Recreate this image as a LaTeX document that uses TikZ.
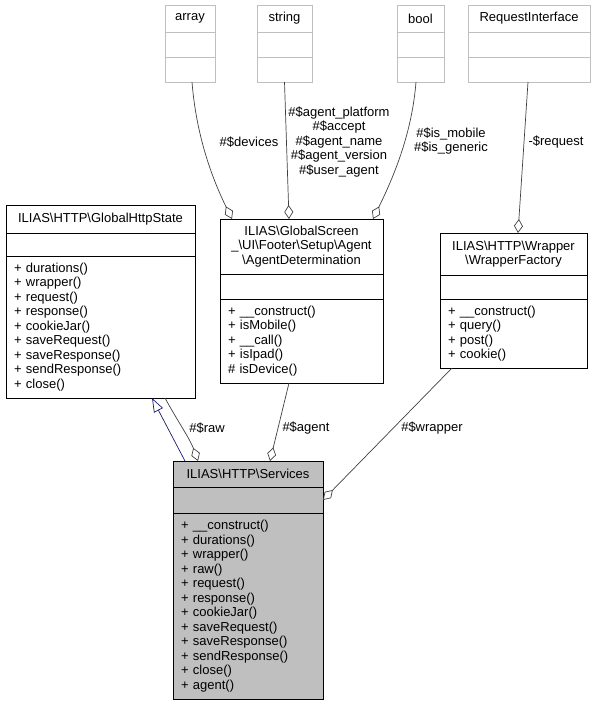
\documentclass[tikz,border=0pt]{standalone}
\usepackage{fontspec}
\setmainfont{Liberation Sans}
\usetikzlibrary{calc,positioning,arrows.meta}
\definecolor{edgegray}{HTML}{404040}
\definecolor{boxgray}{HTML}{BFBFBF}
\definecolor{inherit}{HTML}{191970}
\newcommand{\bsl}{\textbackslash}

\begin{document}
\begin{tikzpicture}[%
    x=1pt, y=-1pt,
    font=\fontsize{13}{14.5}\selectfont,
    part/.style={draw=black, line width=0.9pt, inner sep=0pt, outer sep=0pt, align=center},
    ext/.style={part, draw=boxgray},
    ops/.style={part, align=left, inner xsep=8pt},
    member/.style={draw=edgegray, line width=0.7pt,
      -{Diamond[open, length=14pt, width=9pt, line width=0.7pt]}},
    lbl/.style={align=center, inner sep=1pt}
  ]
  \useasboundingbox (0,0) rectangle (597,705);

  % external types
  \node[ext, minimum width=50pt, minimum height=27pt, anchor=north] (array) at (190,5) {array};
  \node[ext, minimum width=50pt, minimum height=25pt, below=0pt of array] (array-attr) {};
  \node[ext, minimum width=50pt, minimum height=25pt, below=0pt of array-attr] (array-ops) {};

  \node[ext, minimum width=55pt, minimum height=27pt, anchor=north] (string) at (284.5,5) {string};
  \node[ext, minimum width=55pt, minimum height=25pt, below=0pt of string] (string-attr) {};
  \node[ext, minimum width=55pt, minimum height=25pt, below=0pt of string-attr] (string-ops) {};

  \node[ext, minimum width=47pt, minimum height=27pt, anchor=north] (bool) at (420.5,5) {bool};
  \node[ext, minimum width=47pt, minimum height=25pt, below=0pt of bool] (bool-attr) {};
  \node[ext, minimum width=47pt, minimum height=25pt, below=0pt of bool-attr] (bool-ops) {};

  \node[ext, minimum width=122pt, minimum height=27pt, anchor=north] (request) at (529,5) {RequestInterface};
  \node[ext, minimum width=122pt, minimum height=25pt, below=0pt of request] (request-attr) {};
  \node[ext, minimum width=122pt, minimum height=25pt, below=0pt of request-attr] (request-ops) {};

  % classes
  \node[part, minimum width=189pt, minimum height=28pt, anchor=north] (state) at (100.5,205)
    {ILIAS\bsl HTTP\bsl GlobalHttpState};
  \node[part, minimum width=189pt, minimum height=23pt, below=0pt of state] (state-attr) {};
  \node[ops, text width=173pt, minimum height=142pt, below=0pt of state-attr] (state-ops)
    {+ durations()\\+ wrapper()\\+ request()\\+ response()\\+ cookieJar()\\+ saveRequest()\\%
     + saveResponse()\\+ sendResponse()\\+ close()};

  \node[part, minimum width=163pt, minimum height=55pt, anchor=north] (agent) at (301.5,219)
    {ILIAS\bsl GlobalScreen\\\_\bsl UI\bsl Footer\bsl Setup\bsl Agent\\\bsl AgentDetermination};
  \node[part, minimum width=163pt, minimum height=25pt, below=0pt of agent] (agent-attr) {};
  \node[ops, text width=147pt, minimum height=84pt, below=0pt of agent-attr] (agent-ops)
    {+ \_\_construct()\\+ isMobile()\\+ \_\_call()\\+ isIpad()\\\# isDevice()};

  \node[part, minimum width=147pt, minimum height=42pt, anchor=north] (wrapper) at (513.5,233)
    {ILIAS\bsl HTTP\bsl Wrapper\\\bsl WrapperFactory};
  \node[part, minimum width=147pt, minimum height=24pt, below=0pt of wrapper] (wrapper-attr) {};
  \node[ops, text width=131pt, minimum height=69pt, below=0pt of wrapper-attr] (wrapper-ops)
    {+ \_\_construct()\\+ query()\\+ post()\\+ cookie()};

  \node[part, fill=boxgray, minimum width=150pt, minimum height=26pt, anchor=north] (services) at (248,461)
    {ILIAS\bsl HTTP\bsl Services};
  \node[part, fill=boxgray, minimum width=150pt, minimum height=26pt, below=0pt of services] (services-attr) {};
  \node[ops, fill=boxgray, text width=134pt, minimum height=186pt, below=0pt of services-attr] (services-ops)
    {+ \_\_construct()\\+ durations()\\+ wrapper()\\+ raw()\\+ request()\\+ response()\\%
     + cookieJar()\\+ saveRequest()\\+ saveResponse()\\+ sendResponse()\\+ close()\\+ agent()};

  % connectors
  \draw[member] ($(array-ops.south)+(2,0)$) .. controls +(4,50) and +(-22,-45) .. ($(agent.north west)+(12,0)$);
  \draw[member] (string-ops.south) -- ($(agent.north west)+(69,0)$);
  \draw[member] ($(bool-ops.south)+(-4.5,0)$) .. controls +(-4,50) and +(22,-45) .. ($(agent.north east)+(-10,0)$);
  \draw[member] ($(request-ops.south)+(-1,0)$) -- ($(wrapper.north)+(4.5,0)$);
  \draw[inherit, line width=0.7pt, -{Triangle[open, length=14pt, width=10pt, line width=0.7pt]}]
    ($(services.north west)+(12,0)$) -- ($(state-ops.south)+(51.5,0)$);
  \draw[member] ($(state-ops.south)+(64.5,0)$) .. controls +(12,22) and +(-8,-22) .. ($(services.north west)+(25,0)$);
  \draw[member] ($(agent-ops.south)+(-12.5,0)$) -- ($(services.north)+(22,0)$);
  \draw[member] ($(wrapper-ops.south west)+(12,0)$) -- (services-attr.east);

  % labels
  \node[lbl] (l-devices) at (249,142) {\#\$devices};
  \node[lbl] (l-string) at (339,142)
    {\#\$agent\_platform\\\#\$accept\\\#\$agent\_name\\\#\$agent\_version\\\#\$user\_agent};
  \node[lbl] (l-bool) at (451,141) {\#\$is\_mobile\\\#\$is\_generic};
  \node[lbl] (l-request) at (556,142) {-\$request};
  \node[lbl] (l-raw) at (207,428) {\#\$raw};
  \node[lbl] (l-agent) at (306,428) {\#\$agent};
  \node[lbl] (l-wrapper) at (432,428) {\#\$wrapper};
\end{tikzpicture}
\end{document}
